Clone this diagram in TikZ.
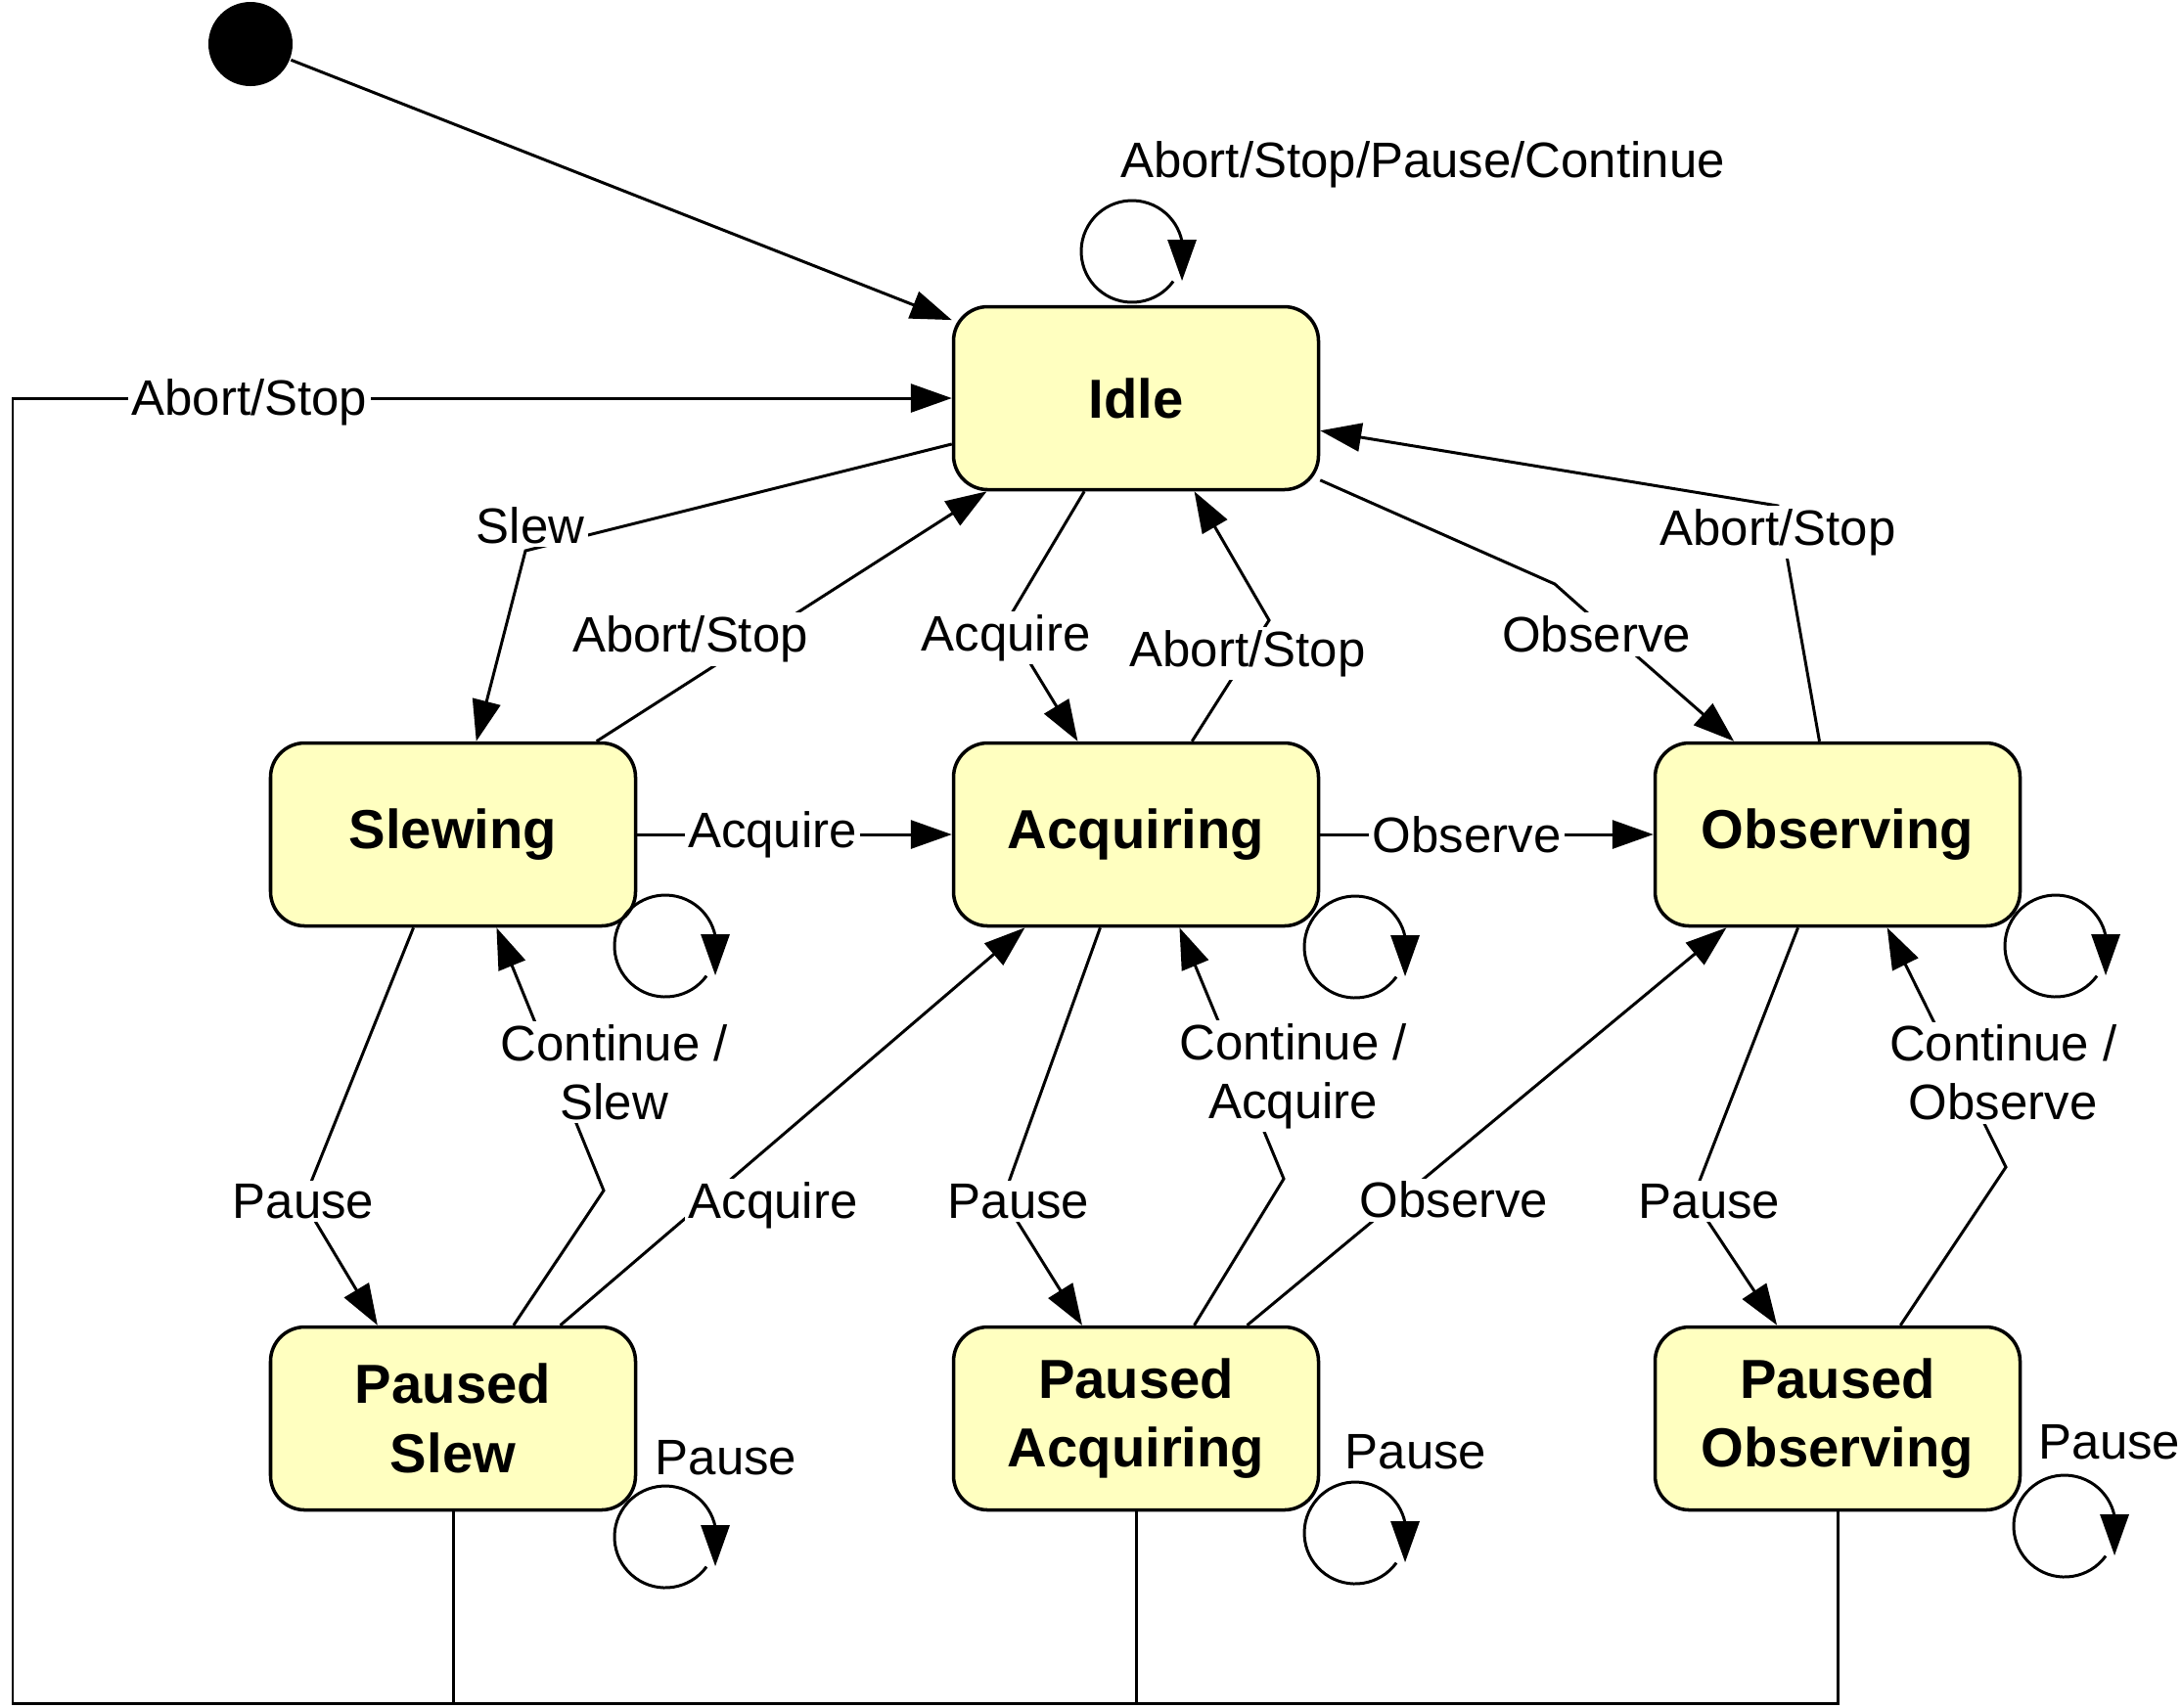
\documentclass[tikz,border=0pt]{standalone}
\usepackage{fontspec}
\setmainfont{Liberation Sans}
\usetikzlibrary{arrows.meta,positioning,calc}
\definecolor{statefill}{HTML}{FFFFC0}

\begin{document}
\begin{tikzpicture}[line width=0.85pt, >={Triangle[length=4.2mm,width=2.9mm]},
    font=\fontsize{14.5}{17}\selectfont,
    state/.style={draw, line width=1pt, rounded corners=3.5mm, fill=statefill, minimum width=3.73cm,
      minimum height=1.87cm, align=center, font=\fontsize{16}{20}\selectfont\bfseries},
    lbl/.style={fill=white, inner sep=1pt, align=center}]
  \useasboundingbox (0,0) rectangle (22.29,-17.45);
  % ---------------- states ----------------
  \node[circle, fill=black, minimum size=0.86cm, inner sep=0pt] (init) at (2.56,-0.45) {};
  \node[state] (Idle)       at (11.61,-4.07)  {Idle};
  \node[state] (Slewing)    at (4.63,-8.53)   {Slewing};
  \node[state] (Acquiring)  at (11.61,-8.53)  {Acquiring};
  \node[state] (Observing)  at (18.78,-8.53)  {Observing};
  \node[state] (PSlew)      at (4.63,-14.50)  {Paused\\Slew};
  \node[state] (PAcquiring) at (11.61,-14.50) {Paused\\Acquiring};
  \node[state] (PObserving) at (18.78,-14.50) {Paused\\Observing};
  \draw[->] (init) -- (Idle.157);
  % ---------------- self loops ----------------
  \foreach \n/\dx/\dy in {Idle/-0.04/1.50, Slewing/2.17/-1.14, Acquiring/2.24/-1.15, Observing/2.23/-1.14,
      PSlew/2.17/-1.21, PAcquiring/2.24/-1.17, PObserving/2.32/-1.10}
    \draw[->] ($(\n)+(\dx,\dy)+(-36:0.52)$) arc[start angle=-36, end angle=-349, radius=0.52] -- ++(0,-0.40);
  \node (lIdle) at (14.54,-1.68) {Abort/Stop/Pause/Continue};
  \node (lPSlew) at (7.42,-14.90) {Pause};
  \node (lPAcquiring) at (14.47,-14.84) {Pause};
  \node (lPObserving) at (21.56,-14.74) {Pause};
  % ---------------- from Idle and back ----------------
  \draw[->] (Idle.194) -- (5.37,-5.63) node[lbl, xshift=0.5mm, yshift=2.6mm] {Slew} -- (Slewing.76);
  \draw[->] (Slewing.33) -- node[lbl, pos=0.24, yshift=4.3mm] {Abort/Stop} (Idle.212);
  \draw[->] (Idle.241) -- (10.28,-6.37) node[lbl, yshift=-1.5mm] {Acquire} -- (Acquiring.122);
  \draw[->] (Acquiring.59) -- (12.97,-6.34) node[lbl, xshift=-2.2mm, yshift=-3.4mm] {Abort/Stop} -- (Idle.-58);
  \draw[->] (Idle.-24) -- (15.89,-5.97) -- (16.16,-6.21) -- node[lbl, pos=0.1, yshift=-1.4mm] {Observe} (Observing.138);
  \draw[->] (Observing.101) -- (18.17,-5.17) node[lbl, yshift=-2.7mm] {Abort/Stop} -- (Idle.-10);
  % ---------------- middle row ----------------
  \draw[->] (Slewing.east) -- node[lbl, pos=0.43] {Acquire} (Acquiring.west);
  \draw[->] (Acquiring.east) -- node[lbl, pos=0.44] {Observe} (Observing.west);
  % ---------------- pause / continue ----------------
  \draw[->] (Slewing.247) -- (3.10,-12.28) node[lbl] {Pause} -- (PSlew.129);
  \draw[->] (PSlew.57) -- (6.17,-12.17) -- node[lbl, pos=0.45, xshift=6mm] {Continue /\\Slew} (Slewing.-65);
  \draw[->] (PSlew.41) -- node[lbl, pos=0.315, xshift=6.8mm, yshift=-0.6mm] {Acquire} (Acquiring.220);
  \draw[->] (Acquiring.249) -- (10.25,-12.25) node[lbl, xshift=1.6mm, yshift=-0.3mm] {Pause} -- (PAcquiring.120);
  \draw[->] (PAcquiring.58) -- (13.12,-12.05) -- node[lbl, pos=0.435, xshift=5.6mm, yshift=-0.7mm] {Continue /\\Acquire} (Acquiring.-65);
  \draw[->] (PAcquiring.40) -- node[lbl, pos=0.315, xshift=5.7mm] {Observe} (Observing.220);
  \draw[->] (Observing.247) -- (17.30,-12.25) node[lbl, xshift=1.7mm, yshift=-0.3mm] {Pause} -- (PObserving.123);
  \draw[->] (PObserving.56) -- (20.50,-11.93) -- node[lbl, pos=0.394, xshift=4.5mm] {Continue /\\Observe} (Observing.-62);
  % ---------------- Abort/Stop from paused states ----------------
  \coordinate (bl) at (0.13,-17.41);
  \draw[->] (PObserving.south) |- (bl) -- (bl |- Idle.west) -- node[lbl, pos=0.252, yshift=-0.4mm] {Abort/Stop} (Idle.west);
  \draw (PSlew.south) -- (PSlew.south |- bl);
  \draw (PAcquiring.south) -- (PAcquiring.south |- bl);
\end{tikzpicture}
\end{document}
